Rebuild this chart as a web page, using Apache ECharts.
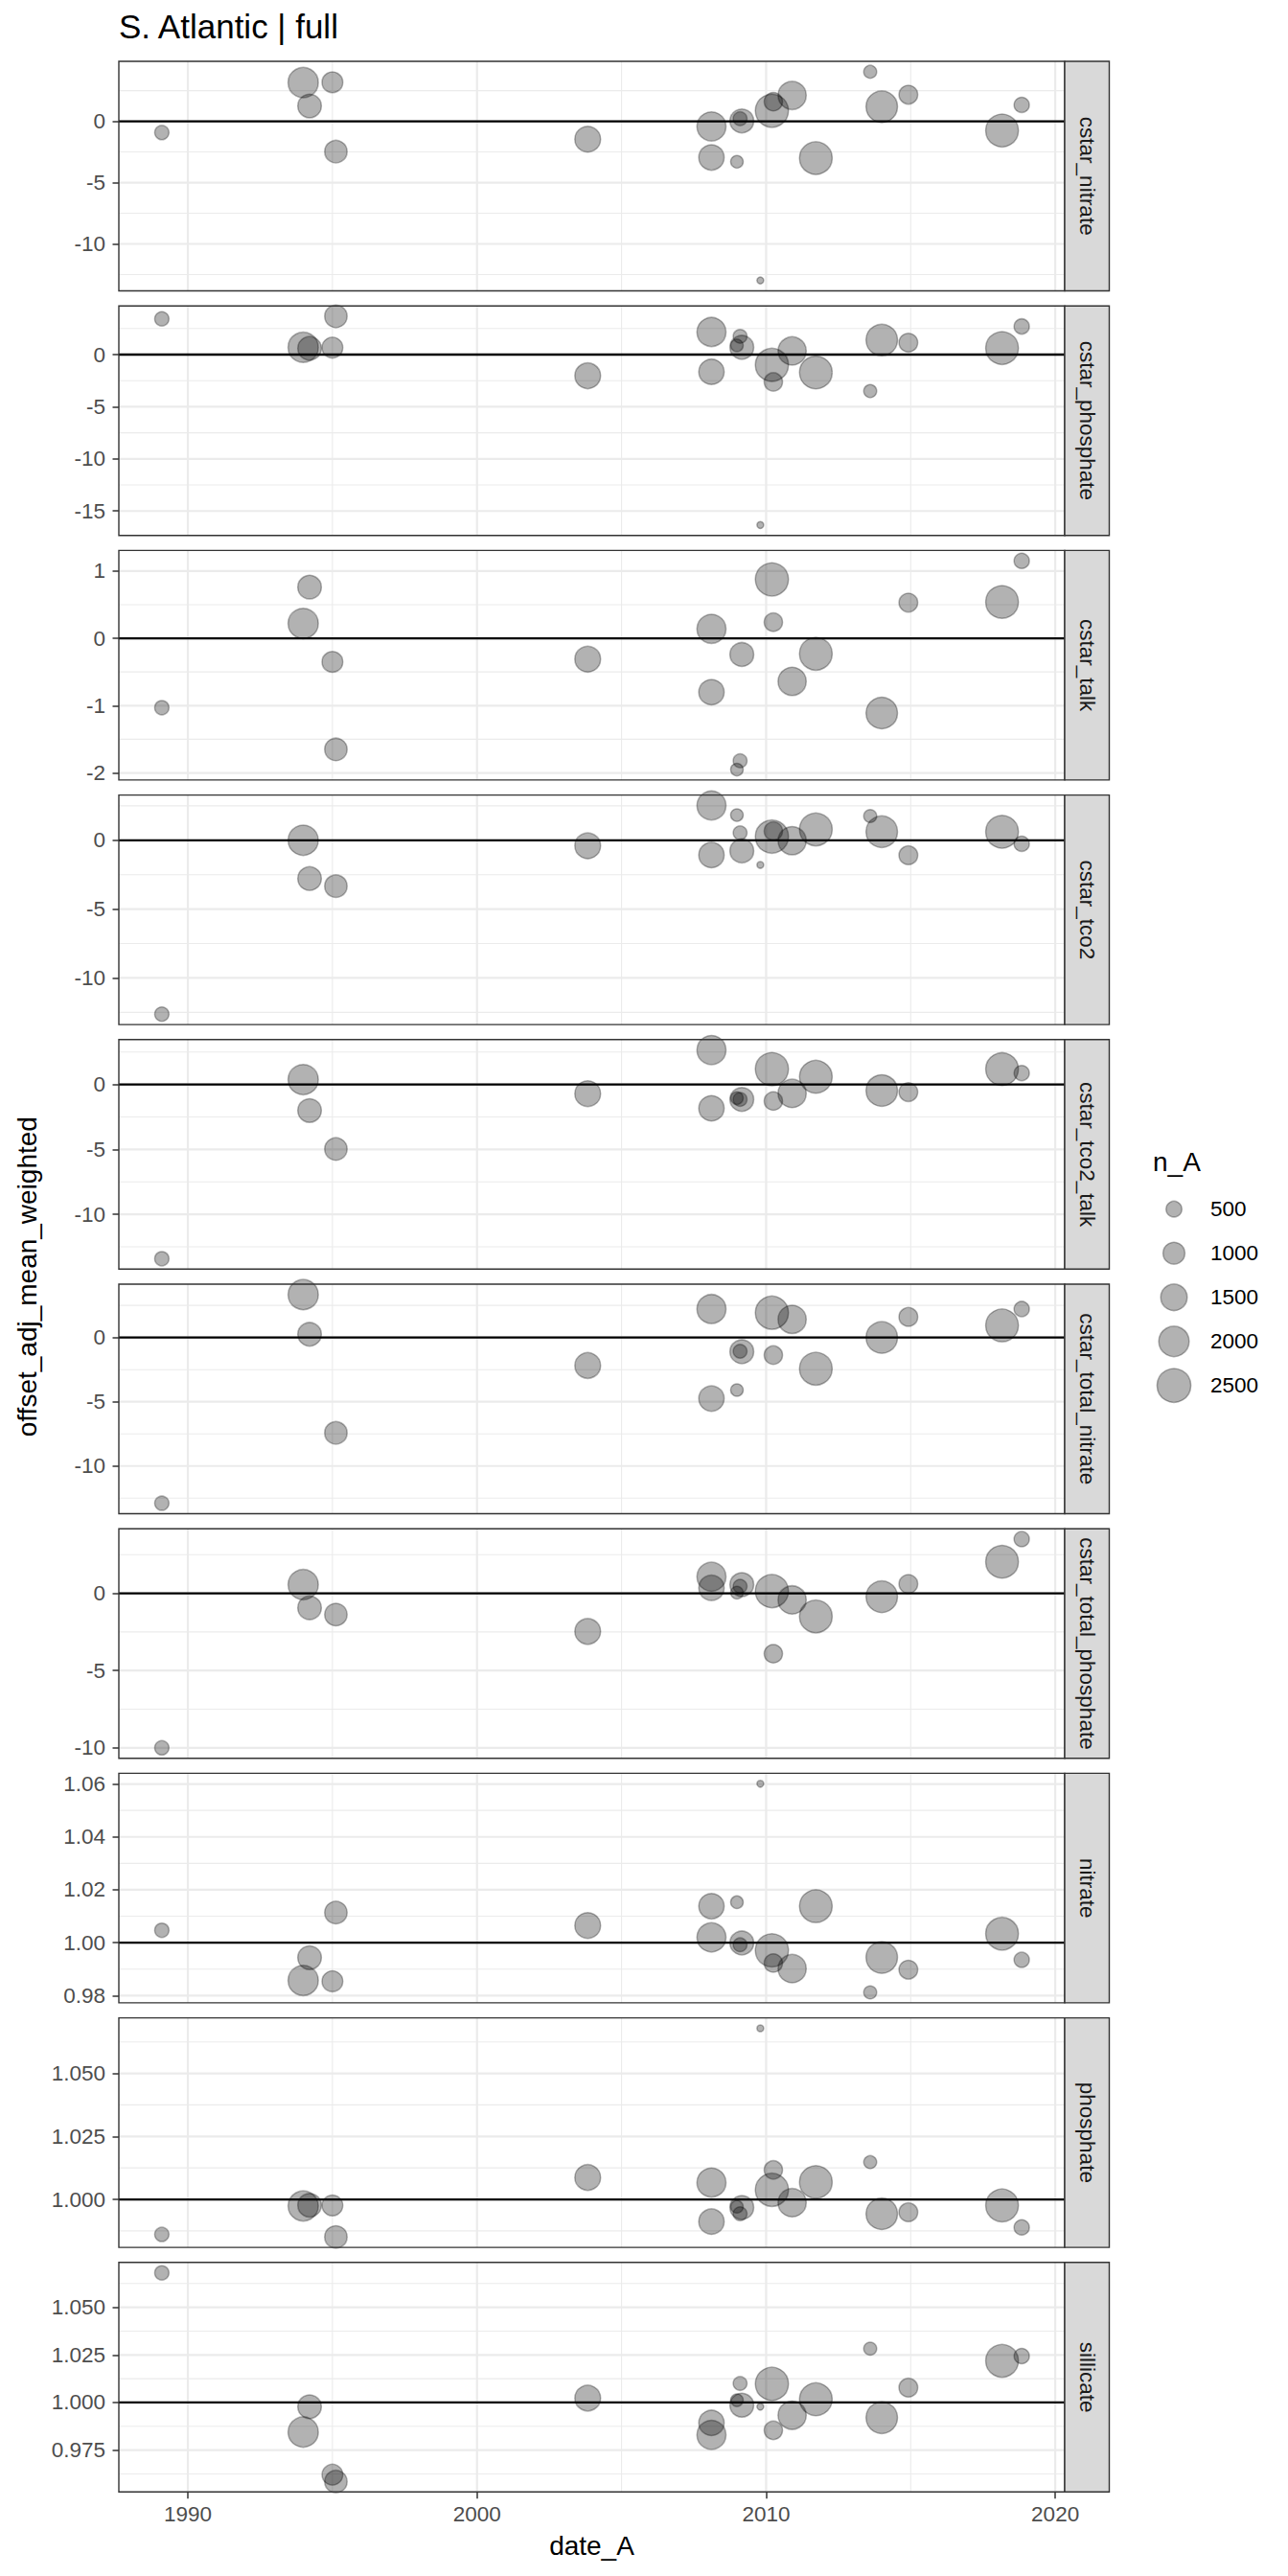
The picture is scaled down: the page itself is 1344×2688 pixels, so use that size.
<!DOCTYPE html>
<html>
<head>
<meta charset="utf-8">
<title>S. Atlantic | full</title>
<script src="https://cdn.jsdelivr.net/npm/echarts@6.0.0/dist/echarts.min.js"></script>
<style>
  html, body { margin: 0; padding: 0; background: #ffffff; }
  #chart { width: 1344px; height: 2688px; }
</style>
</head>
<body>
<div id="chart"></div>
<script>
// === DATA ===
// cruise dates (decimal years) and number of samples per cruise
const dates = [1989.10, 1993.99, 1994.21, 1995.00, 1995.12, 2003.83, 2008.11, 2008.11, 2008.99, 2009.10, 2009.16,
               2009.80, 2010.20, 2010.25, 2010.90, 2011.72, 2013.60, 2014.00, 2014.92, 2018.16, 2018.84];
const nA = [395, 1980, 1180, 900, 1060, 1415, 1820, 1370, 300, 370, 1200,
            72, 2400, 690, 1715, 2340, 320, 2155, 720, 2340, 460];

const panels = ['cstar_nitrate', 'cstar_phosphate', 'cstar_talk', 'cstar_tco2', 'cstar_tco2_talk',
                'cstar_total_nitrate', 'cstar_total_phosphate', 'nitrate', 'phosphate', 'sillicate'];

// offset_adj_mean_weighted per panel, same order as dates (null = no crossover)
const cstarNitrate = [-0.92, 3.16, 1.25, 3.18, -2.47, -1.46, -0.42, -2.95, -3.30, 0.21, 0.03,
                      -12.98, 0.86, 1.60, 2.11, -3.00, 4.04, 1.19, 2.17, -0.75, 1.34];
const cstarPhosphate = [3.43, 0.70, 0.60, 0.67, 3.67, -2.03, 2.17, -1.65, 0.88, 1.75, 0.70,
                        -16.34, -0.98, -2.62, 0.35, -1.71, -3.50, 1.40, 1.15, 0.63, 2.70];
const cstarTalk = [-1.03, 0.22, 0.76, -0.35, -1.65, -0.31, 0.14, -0.80, -1.95, -1.82, -0.24,
                   null, 0.875, 0.24, -0.64, -0.23, null, -1.11, 0.53, 0.54, 1.15];
const cstarTco2 = [-12.63, 0.00, -2.78, null, -3.33, -0.40, 2.53, -1.07, 1.83, 0.54, -0.77,
                   -1.79, 0.27, 0.67, -0.03, 0.79, 1.76, 0.62, -1.09, 0.62, -0.25];
const cstarTco2Talk = [-13.42, 0.37, -2.01, null, -4.97, -0.71, 2.65, -1.84, -1.05, -1.15, -1.15,
                       null, 1.18, -1.28, -0.69, 0.59, null, -0.47, -0.59, 1.18, 0.88];
const cstarTotalNitrate = [-12.90, 3.34, 0.25, null, -7.42, -2.18, 2.22, -4.75, -4.09, -1.07, -1.10,
                           null, 1.93, -1.37, 1.41, -2.43, null, 0.00, 1.60, 0.94, 2.22];
const cstarTotalPhosphate = [-10.00, 0.56, -0.94, null, -1.38, -2.47, 1.07, 0.35, 0.04, 0.45, 0.56,
                             null, 0.14, -3.91, -0.43, -1.50, null, -0.22, 0.60, 2.04, 3.50];
const nitrate = [1.0047, 0.9857, 0.9943, 0.9854, 1.0114, 1.0065, 1.0020, 1.0138, 1.0153, 0.9992, 0.9999,
                 1.0601, 0.9971, 0.9923, 0.9902, 1.0138, 0.9812, 0.9944, 0.9898, 1.0034, 0.9935];
const phosphate = [0.9861, 0.9974, 0.9977, 0.9976, 0.9851, 1.0087, 1.0067, 0.9912, 0.9971, 0.9943, 0.9968,
                   1.0679, 1.0038, 1.0117, 0.9987, 1.0069, 1.0148, 0.9943, 0.9949, 0.9976, 0.9889];
const sillicate = [1.0681, 0.9845, 0.9978, 0.9621, 0.9585, 1.0023, 0.9830, 0.9893, 1.0012, 1.0100, 0.9986,
                   0.9978, 1.0098, 0.9854, 0.9933, 1.0017, 1.0283, 0.9920, 1.0078, 1.0219, 1.0244];

const panelValues = [cstarNitrate, cstarPhosphate, cstarTalk, cstarTco2, cstarTco2Talk,
                     cstarTotalNitrate, cstarTotalPhosphate, nitrate, phosphate, sillicate];

// tick step of each panel's y axis and the level of the reference line
const yStep = [5, 5, 1, 5, 5, 5, 5, 0.02, 0.025, 0.025];
const refLevel = [0, 0, 0, 0, 0, 0, 0, 1, 1, 1];
const xTicks = [1990, 2000, 2010, 2020];
const legendN = [500, 1000, 1500, 2000, 2500];

// === LAYOUT ===
const FONT = '"Liberation Sans", Arial, Helvetica, sans-serif';
const LEFT = 124, RIGHT = 1111, TOP0 = 64, PANEL_H = 239.5, PITCH = 255.2, STRIP_W = 46.5;
const POINT_COLOR = 'rgba(0,0,0,0.3)';

// point diameter from n_A (area scale, like ggplot's scale_size)
function sizeFor(n) {
    return 2.86 + 0.677 * Math.sqrt(n) - 1.5;
}

// ggplot style 5% expansion of a range
function expand(vals) {
    const lo = Math.min(...vals), hi = Math.max(...vals);
    const pad = (hi - lo) * 0.05;
    return [lo - pad, hi + pad];
}

function multiples(range, step, offset) {
    const out = [];
    const k0 = Math.ceil(range[0] / step - offset), k1 = Math.floor(range[1] / step - offset);
    for (let k = k0; k <= k1; k++) out.push(+((k + offset) * step).toFixed(6));
    return out.filter(v => v >= range[0] && v <= range[1]);
}

function decimalsOf(step) {
    const s = String(step);
    return s.indexOf('.') < 0 ? 0 : s.split('.')[1].length;
}

const xRange = expand(dates);
const xMinor = multiples(xRange, 10, 0.5);

const lineStyles = [
    { stroke: '#ebebeb', lineWidth: 2.2 },   // major grid
    { stroke: '#ebebeb', lineWidth: 1.1 },   // minor grid
    { stroke: '#000000', lineWidth: 2.3 }    // reference line
];

const grids = [], xAxes = [], yAxes = [], series = [], graphics = [];

panels.forEach((name, i) => {
    const vals = panelValues[i];
    const present = vals.filter(v => v !== null);
    const yRange = expand(present);
    const step = yStep[i];
    const yMajor = multiples(yRange, step, 0);
    const yMinor = multiples(yRange, step, 0.5);
    const dec = decimalsOf(step);
    const top = TOP0 + i * PITCH;
    const last = i === panels.length - 1;

    grids.push({ left: LEFT, top: top, width: RIGHT - LEFT, height: PANEL_H, show: false });

    xAxes.push({
        type: 'value', gridIndex: i, min: xRange[0], max: xRange[1],
        axisLine: { show: false, onZero: false },
        splitLine: { show: false },
        axisTick: { show: last, length: 7, lineStyle: { color: '#333333', width: 1.5 }, customValues: xTicks },
        axisLabel: {
            show: last, customValues: xTicks, margin: 12,
            formatter: v => String(v), fontSize: 22.5, color: '#4d4d4d', fontFamily: FONT
        }
    });

    yAxes.push({
        type: 'value', gridIndex: i, min: yRange[0], max: yRange[1],
        axisLine: { show: false, onZero: false },
        splitLine: { show: false },
        axisTick: { show: true, length: 6.5, lineStyle: { color: '#333333', width: 1.5 }, customValues: yMajor },
        axisLabel: {
            customValues: yMajor, margin: 14,
            formatter: v => Number(v).toFixed(dec), fontSize: 22.5, color: '#4d4d4d', fontFamily: FONT
        }
    });

    // grid lines and reference line, placed through the axes' scales
    const lines = [];
    yMinor.forEach(v => lines.push([0, 1, v]));
    xMinor.forEach(v => lines.push([1, 1, v]));
    yMajor.forEach(v => lines.push([0, 0, v]));
    xTicks.forEach(v => lines.push([1, 0, v]));
    lines.push([0, 2, refLevel[i]]);

    series.push({
        type: 'custom', xAxisIndex: i, yAxisIndex: i, z: 1, silent: true, animation: false,
        data: lines,
        renderItem: function (params, api) {
            const cs = params.coordSys;
            const orient = api.value(0), weight = api.value(1), v = api.value(2);
            const st = lineStyles[weight];
            if (orient === 0) {
                const y = api.coord([xRange[0], v])[1];
                return { type: 'line', shape: { x1: cs.x, y1: y, x2: cs.x + cs.width, y2: y }, style: st };
            }
            const x = api.coord([v, yRange[0]])[0];
            return { type: 'line', shape: { x1: x, y1: cs.y, x2: x, y2: cs.y + cs.height }, style: st };
        }
    });

    const points = [];
    vals.forEach((v, k) => { if (v !== null) points.push([dates[k], v, nA[k]]); });

    series.push({
        type: 'scatter', name: name, xAxisIndex: i, yAxisIndex: i, z: 3,
        silent: true, animation: false,
        data: points,
        symbol: 'circle',
        symbolSize: val => sizeFor(val[2]),
        itemStyle: { color: POINT_COLOR, borderColor: POINT_COLOR, borderWidth: 1.5, opacity: 1 },
        emphasis: { disabled: true }
    });

    // panel border and facet strip
    graphics.push({
        type: 'rect', z: 100, silent: true,
        shape: { x: LEFT, y: top, width: RIGHT - LEFT, height: PANEL_H },
        style: { fill: null, stroke: '#333333', lineWidth: 1.4 }
    });
    graphics.push({
        type: 'rect', z: 100, silent: true,
        shape: { x: RIGHT, y: top, width: STRIP_W, height: PANEL_H },
        style: { fill: '#d9d9d9', stroke: '#333333', lineWidth: 1.4 }
    });
    graphics.push({
        type: 'text', z: 101, silent: true,
        x: RIGHT + STRIP_W / 2, y: top + PANEL_H / 2, rotation: -Math.PI / 2,
        style: {
            text: name, fill: '#1a1a1a', font: '22.5px ' + FONT,
            textAlign: 'center', textVerticalAlign: 'middle'
        }
    });
});

// titles
graphics.push({
    type: 'text', z: 101, silent: true, x: LEFT, y: 27.7,
    style: { text: 'S. Atlantic | full', fill: '#000000', font: '35px ' + FONT, textAlign: 'left', textVerticalAlign: 'middle' }
});
graphics.push({
    type: 'text', z: 101, silent: true, x: 28, y: (TOP0 + TOP0 + 9 * PITCH + PANEL_H) / 2, rotation: Math.PI / 2,
    style: { text: 'offset_adj_mean_weighted', fill: '#000000', font: '28px ' + FONT, textAlign: 'center', textVerticalAlign: 'middle' }
});
graphics.push({
    type: 'text', z: 101, silent: true, x: (LEFT + RIGHT) / 2, y: 2656,
    style: { text: 'date_A', fill: '#000000', font: '28px ' + FONT, textAlign: 'center', textVerticalAlign: 'middle' }
});

// size legend
graphics.push({
    type: 'text', z: 101, silent: true, x: 1203, y: 1212.5,
    style: { text: 'n_A', fill: '#000000', font: '28px ' + FONT, textAlign: 'left', textVerticalAlign: 'middle' }
});
legendN.forEach((n, k) => {
    const cy = 1261.7 + k * 46;
    graphics.push({
        type: 'circle', z: 101, silent: true,
        shape: { cx: 1225, cy: cy, r: sizeFor(n) / 2 },
        style: { fill: POINT_COLOR, stroke: POINT_COLOR, lineWidth: 1.5 }
    });
    graphics.push({
        type: 'text', z: 101, silent: true, x: 1263, y: cy,
        style: { text: String(n), fill: '#000000', font: '22.5px ' + FONT, textAlign: 'left', textVerticalAlign: 'middle' }
    });
});

if (typeof echarts !== 'undefined') {
    const chart = echarts.init(document.getElementById('chart'), null, { renderer: 'svg' });
    chart.setOption({
        backgroundColor: '#ffffff',
        animation: false,
        textStyle: { fontFamily: FONT },
        grid: grids,
        xAxis: xAxes,
        yAxis: yAxes,
        series: series,
        graphic: { elements: graphics }
    });
    window.addEventListener('resize', () => chart.resize());
} else {
    console.error('ECharts library not loaded.');
}
</script>
</body>
</html>
